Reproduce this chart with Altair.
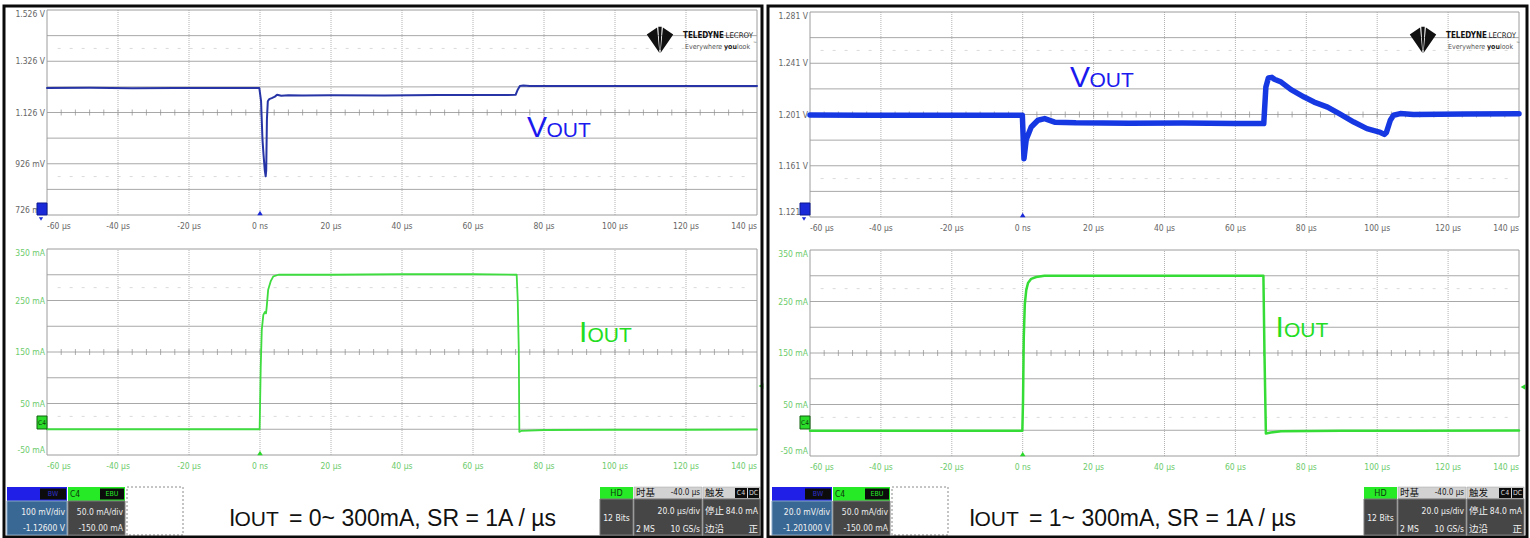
import altair as alt
import pandas as pd

W, H = 1530, 538

NARROW = "Liberation Sans Narrow, Arial Narrow, DejaVu Sans Condensed, Roboto Condensed, Liberation Sans, sans-serif"
SANS = "Liberation Sans, Arial, Helvetica, sans-serif"
CJK = "Noto Sans CJK SC, sans-serif"

# ---- time base: 20 µs/div, trigger at 0 ----
T_DOMAIN = [-60, 140]
T_TICKS = [-60, -40, -20, 0, 20, 40, 60, 80, 100, 120, 140]
T_LABELS = ["-60 µs", "-40 µs", "-20 µs", "0 ns", "20 µs", "40 µs",
            "60 µs", "80 µs", "100 µs", "120 µs", "140 µs"]

# ---- vertical scales ----
VL_DOMAIN = [0.726, 1.526]          # C1, 100 mV/div
VL_TICKS = [0.726, 0.926, 1.126, 1.326, 1.526]
VL_LABELS = ["726 mV", "926 mV", "1.126 V", "1.326 V", "1.526 V"]

VR_DOMAIN = [1.121, 1.281]          # C1, 20 mV/div
VR_TICKS = [1.121, 1.161, 1.201, 1.241, 1.281]
VR_LABELS = ["1.121 V", "1.161 V", "1.201 V", "1.241 V", "1.281 V"]

I_DOMAIN = [-50, 350]               # C4, 50 mA/div
I_TICKS = [-50, 50, 150, 250, 350]
I_LABELS = ["-50 mA", "50 mA", "150 mA", "250 mA", "350 mA"]

TRIG_LEVEL_MA = 84.0

# ---- captured traces ----
# 0 ~ 300 mA step: VOUT (V)
LT_T = [-60, -48, -36, -24, -12, -0.2, 0.3, 0.7, 1.0, 1.35, 1.6, 1.75, 1.95, 2.2, 2.6,
        3.3, 4.2, 4.8, 6, 8, 12, 20, 35, 50, 65, 72.0, 72.6, 73.2, 74.2, 76,
        85, 100, 120, 140]
LT_V = [1.222, 1.223, 1.221, 1.222, 1.222, 1.222, 1.170, 1.020, 0.960, 0.900, 0.877,
        0.900, 1.100, 1.170, 1.178, 1.182, 1.188, 1.195, 1.191, 1.193, 1.192, 1.193,
        1.192, 1.194, 1.194, 1.195, 1.215, 1.229, 1.231, 1.229, 1.229, 1.229, 1.229, 1.229]
# 0 ~ 300 mA step: IOUT (mA)
LB_T = [-60, -30, -0.1, 0.2, 0.5, 0.94, 1.4, 1.7, 1.9, 2.3, 3.0, 3.75, 5.2, 20, 40, 60,
        72.3, 72.6, 72.9, 73.05, 73.7, 80, 100, 120, 140]
LB_I = [0, 0, 0, 120, 193, 222, 228, 225, 238, 271, 287, 297, 300, 300, 301, 301,
        300, 251, 154, -5, -3, -1.5, -1, -1, -0.5]
# 1 ~ 300 mA step: VOUT (V)
RT_T = [-60, -45, -30, -15, -0.1, 0.36, 1.0, 2.4, 4.3, 6.2, 9, 15, 30, 45, 60,
        68.0, 68.6, 69.3, 70.3, 71.0, 72.9, 75.7, 79.4, 82.2, 86, 89.3, 93.4, 97.1,
        100.9, 102.0, 102.6, 103.7, 104.6, 106.5, 110.2, 125, 140]
RT_V = [1.2006, 1.2004, 1.2005, 1.2004, 1.2004, 1.1665, 1.1815, 1.1912, 1.1965, 1.1978,
        1.1950, 1.1945, 1.1942, 1.1944, 1.1940, 1.1939, 1.2225, 1.2295, 1.2300, 1.2285,
        1.2263, 1.2204, 1.2146, 1.2107, 1.2068, 1.2017, 1.1951, 1.1900, 1.1870, 1.1855,
        1.1870, 1.1965, 1.2004, 1.2017, 1.2010, 1.2013, 1.2015]
# 1 ~ 300 mA step: IOUT (mA)
RB_T = [-60, -30, -0.1, 0.1, 0.3, 0.6, 1.0, 1.5, 2.4, 3.8, 6.1, 20, 40, 60,
        67.9, 68.2, 68.6, 70, 72.9, 90, 110, 140]
RB_I = [-1, -1, -1, 60, 180, 245, 272, 286, 294, 297.5, 300, 300, 300, 300,
        300, 150, -6.5, -4.5, -2, -1, -1, -0.5]

# ---- status bar contents ----
CH1_SETTINGS = [["100 mV/div", "-1.12600 V"], ["20.0 mV/div", "-1.201000 V"]]
CH4_SETTINGS = ["50.0 mA/div", "-150.00 mA"]
TIMEBASE = ["-40.0 µs", "20.0 µs/div", "2 MS", "10 GS/s"]
TRIGGER = ["84.0 mA", "正"]
CAPTIONS = ["= 0~ 300mA, SR = 1A / µs", "= 1~ 300mA, SR = 1A / µs"]

ONE = pd.DataFrame({"k": [0]})


def scope_panel(x_px, y_px, y_domain, y_ticks, y_labels, t, y, trace_color,
                trace_width, label_color, marker_color, trig_level=None, trig_x=None):
    xs = alt.Scale(domain=T_DOMAIN, range=list(x_px), nice=False, zero=False)
    ys = alt.Scale(domain=y_domain, range=list(y_px), nice=False, zero=False)
    lo, hi = y_domain
    div = (hi - lo) / 8.0

    def xd(v):
        return alt.X(datum=v, scale=xs, axis=None)

    def yd(v):
        return alt.Y(datum=v, scale=ys, axis=None)

    def xf(f):
        return alt.X(f, scale=xs, axis=None)

    def yf(f):
        return alt.Y(f, scale=ys, axis=None)

    layers = []
    # faint inner graticule rows
    half = pd.DataFrame({"v": [lo + 1.5 * div, hi - 1.5 * div]})
    layers.append(alt.Chart(half).mark_rule(color="#dadada", strokeDash=[3, 9], strokeWidth=1).encode(
        x=xd(T_DOMAIN[0] + 3), x2=alt.X2(datum=T_DOMAIN[1] - 3), y=yf("v:Q")))
    # horizontal divisions
    hgrid = pd.DataFrame({"v": [lo + k * div for k in range(1, 8)]})
    layers.append(alt.Chart(hgrid).mark_rule(color="#a8a8a8", strokeWidth=1).encode(
        x=xd(T_DOMAIN[0]), x2=alt.X2(datum=T_DOMAIN[1]), y=yf("v:Q")))
    # vertical divisions (dotted)
    vgrid = pd.DataFrame({"t": T_TICKS[1:-1]})
    layers.append(alt.Chart(vgrid).mark_rule(color="#b2b2b2", strokeDash=[1, 1], strokeWidth=1).encode(
        x=xf("t:Q"), y=yd(lo), y2=alt.Y2(datum=hi)))
    # minor ticks on the centre line
    minor = pd.DataFrame({"t": [T_DOMAIN[0] + 4 * k for k in range(1, 50)]})
    layers.append(alt.Chart(minor).mark_tick(orient="vertical", size=6, thickness=1, color="#8c8c8c").encode(
        x=xf("t:Q"), y=yd(lo + 4 * div)))
    # plot border
    layers.append(alt.Chart(ONE).mark_rect(fillOpacity=0, stroke="#9c9c9c", strokeWidth=1).encode(
        x=xd(T_DOMAIN[0]), x2=alt.X2(datum=T_DOMAIN[1]), y=yd(lo), y2=alt.Y2(datum=hi)))

    # time labels under the grid (outer ones kept flush with the plot edges)
    tl = pd.DataFrame({"t": T_TICKS, "label": T_LABELS})
    for sub, align in ((tl.iloc[:1], "left"), (tl.iloc[1:-1], "center"), (tl.iloc[-1:], "right")):
        layers.append(alt.Chart(sub).mark_text(align=align, baseline="middle", font=NARROW,
                                               fontSize=8.5, color=label_color).encode(
            x=xf("t:Q"), y=alt.value(y_px[0] + 10.5), text="label:N"))
    # vertical labels left of the grid
    vlab = pd.DataFrame({"v": y_ticks, "label": y_labels})
    for sub, base in ((vlab.iloc[:1], "bottom"), (vlab.iloc[1:-1], "middle"), (vlab.iloc[-1:], "top")):
        layers.append(alt.Chart(sub).mark_text(align="right", baseline=base, font=NARROW,
                                               fontSize=8.5, color=label_color).encode(
            x=alt.value(x_px[0] - 2), y=yf("v:Q"), text="label:N"))

    # the trace
    tr = pd.DataFrame({"t": t, "y": y})
    layers.append(alt.Chart(tr).mark_line(color=trace_color, strokeWidth=trace_width,
                                          strokeJoin="round", strokeCap="round").encode(
        x=xf("t:Q"), y=yf("y:Q")))
    # trigger position marker
    layers.append(alt.Chart(ONE).mark_point(shape="triangle-up", filled=True, size=30,
                                            color=marker_color, opacity=1).encode(
        x=xd(0), y=alt.value(y_px[0] - 2)))
    # trigger level marker
    if trig_level is not None:
        layers.append(alt.Chart(ONE).mark_point(shape="triangle-left", filled=True, size=30,
                                                color=marker_color, opacity=1).encode(
            x=alt.value(trig_x), y=yd(trig_level)))
    return alt.layer(*layers)


def boxes(rows):
    df = pd.DataFrame(rows, columns=["x", "x2", "y", "y2", "fill", "stroke", "sw"])
    return alt.Chart(df).mark_rect().encode(
        x=alt.X("x:Q", scale=None, axis=None), x2="x2:Q",
        y=alt.Y("y:Q", scale=None, axis=None), y2="y2:Q",
        fill=alt.Fill("fill:N", scale=None),
        stroke=alt.Stroke("stroke:N", scale=None),
        strokeWidth=alt.StrokeWidth("sw:Q", scale=None))


def texts(rows, align="left", baseline="alphabetic", font=SANS, weight="normal"):
    df = pd.DataFrame(rows, columns=["x", "y", "text", "color", "size"])
    return alt.Chart(df).mark_text(align=align, baseline=baseline, font=font, fontWeight=weight).encode(
        x=alt.X("x:Q", scale=None, axis=None), y=alt.Y("y:Q", scale=None, axis=None),
        text="text:N", color=alt.Color("color:N", scale=None),
        size=alt.Size("size:Q", scale=None))


def status_bar(dxl, dxr, ch1):
    L = [(7, 67, 487, 501, "#1f1fe8", "#1f1fe8", 0),
         (40, 66, 488.5, 499.5, "#0c0c0c", "#0c0c0c", 0),
         (7, 67, 501, 535, "#3a6894", "#86a6c6", 1),
         (68, 125, 487, 501, "#27ea27", "#27ea27", 0),
         (100, 124, 488.5, 499.5, "#0c0c0c", "#0c0c0c", 0),
         (68, 125, 501, 535, "#464646", "#7a7a7a", 1)]
    R = [(600, 633, 487, 499, "#27ea27", "#27ea27", 0),
         (600, 633, 499, 535, "#464646", "#7a7a7a", 1),
         (634, 702, 487, 499, "#d2d2d2", "#a0a0a0", 0.5),
         (634, 702, 499, 535, "#464646", "#7a7a7a", 1),
         (703, 760, 487, 499, "#d2d2d2", "#a0a0a0", 0.5),
         (703, 760, 499, 535, "#464646", "#7a7a7a", 1),
         (735, 747, 488, 498, "#0c0c0c", "#0c0c0c", 0),
         (748, 759, 488, 498, "#0c0c0c", "#0c0c0c", 0)]
    rows = [(a + dxl, b + dxl, c, d, e, f, g) for a, b, c, d, e, f, g in L]
    rows += [(a + dxr, b + dxr, c, d, e, f, g) for a, b, c, d, e, f, g in R]
    out = [boxes(rows)]
    out.append(alt.Chart(ONE).mark_rect(fill="white", stroke="#8a8a8a", strokeDash=[2, 2], strokeWidth=1).encode(
        x=alt.value(127 + dxl), x2=alt.value(183 + dxl), y=alt.value(487), y2=alt.value(535)))
    out.append(texts([(65 + dxl, 512, ch1[0], "#f2f2f2", 8.5), (65 + dxl, 528, ch1[1], "#f2f2f2", 8.5),
                      (123 + dxl, 512, CH4_SETTINGS[0], "#ececec", 8.5),
                      (123 + dxl, 528, CH4_SETTINGS[1], "#ececec", 8.5),
                      (700 + dxr, 493, TIMEBASE[0], "#1a1a1a", 8),
                      (700 + dxr, 511, TIMEBASE[1], "#f2f2f2", 8.5),
                      (700 + dxr, 529, TIMEBASE[3], "#f2f2f2", 8.5),
                      (758 + dxr, 511, TRIGGER[0], "#f2f2f2", 8.5)],
                     align="right", baseline="middle", font=NARROW))
    out.append(texts([(70 + dxl, 494, "C4", "#0b3a0b", 8.5), (636 + dxr, 529, TIMEBASE[2], "#f2f2f2", 8.5)],
                     align="left", baseline="middle", font=NARROW))
    out.append(texts([(53 + dxl, 494, "BW", "#3030c8", 7), (112 + dxl, 494, "EBU", "#27ea27", 7),
                      (616.5 + dxr, 493, "HD", "#0b3a0b", 9), (616.5 + dxr, 518, "12 Bits", "#f2f2f2", 8.5),
                      (741 + dxr, 493, "C4", "#d8d8d8", 7), (753.5 + dxr, 493, "DC", "#d8d8d8", 7)],
                     align="center", baseline="middle", font=NARROW))
    out.append(texts([(636 + dxr, 493, "时基", "#111111", 9.5), (705 + dxr, 493, "触发", "#111111", 9.5),
                      (705 + dxr, 511, "停止", "#f2f2f2", 9.5), (705 + dxr, 529, "边沿", "#f2f2f2", 9.5)],
                     align="left", baseline="middle", font=CJK))
    out.append(texts([(758 + dxr, 529, TRIGGER[1], "#f2f2f2", 9.5)],
                     align="right", baseline="middle", font=CJK))
    return out


LOGO_PATH = ("M -1 -0.42 L -0.22 -0.95 L -0.04 0.98 Z "
             "M 1 -0.42 L 0.22 -0.95 L 0.04 0.98 Z "
             "M -0.13 -1 L 0.13 -1 L 0.03 0.75 L -0.03 0.75 Z")


def logo(dx):
    parts = [alt.Chart(ONE).mark_point(shape=LOGO_PATH, filled=True, size=700, color="#111111", opacity=1).encode(
        x=alt.value(660 + dx), y=alt.value(40))]
    parts.append(texts([(683 + dx, 37.5, "TELEDYNE", "#111111", 8)], font=NARROW, weight="bold"))
    parts.append(texts([(725.5 + dx, 37.5, "LECROY", "#222222", 7.8)], font=NARROW))
    parts.append(texts([(685 + dx, 49, "Everywhere", "#555555", 7), (737 + dx, 49, "look", "#555555", 7),
                        (753 + dx, 45, "™", "#555555", 4.5)], font=NARROW))
    parts.append(texts([(724 + dx, 49, "you", "#222222", 7)], font=NARROW, weight="bold"))
    return parts


def channel_markers(dx):
    return [
        boxes([(37 + dx, 47 + dx, 203, 215, "#1a2ad8", "#0c1890", 1),
               (37 + dx, 47 + dx, 416, 429, "#2bdc2b", "#0f600f", 1)]),
        alt.Chart(ONE).mark_point(shape="triangle-down", filled=True, size=18, color="#1a2ad8", opacity=1).encode(
            x=alt.value(41 + dx), y=alt.value(219)),
        texts([(42 + dx, 423, "C4", "#0b3a0b", 6.5)], align="center", baseline="middle", font=NARROW),
    ]


LX, RX = (47, 757), (810, 1519)

panels = [
    scope_panel(LX, (215, 10), VL_DOMAIN, VL_TICKS, VL_LABELS, LT_T, LT_V,
                "#2634a6", 2, "#666666", "#1a2ad8"),
    scope_panel(LX, (455, 249), I_DOMAIN, I_TICKS, I_LABELS, LB_T, LB_I,
                "#3edc3e", 1.8, "#6ccb6c", "#2bd62b", TRIG_LEVEL_MA, 761),
    scope_panel(RX, (217, 12), VR_DOMAIN, VR_TICKS, VR_LABELS, RT_T, RT_V,
                "#1638e2", 5.5, "#666666", "#1a2ad8"),
    scope_panel(RX, (456, 250), I_DOMAIN, I_TICKS, I_LABELS, RB_T, RB_I,
                "#35dc35", 2.5, "#6ccb6c", "#2bd62b", TRIG_LEVEL_MA, 1523),
]

# trace names: large first letter followed by small capitals
names = [
    texts([(527, 137, "V", "#1a1aee", 30), (1070, 87, "V", "#1a1aee", 30),
           (579, 342, "I", "#22dd22", 30), (1275.5, 337, "I", "#22dd22", 30)]),
    texts([(546.5, 137, "OUT", "#1a1aee", 21), (1089.5, 87, "OUT", "#1a1aee", 21),
           (587.5, 342, "OUT", "#22dd22", 21), (1284, 337, "OUT", "#22dd22", 21)]),
]

captions = [
    texts([(229, 526, "I", "#111111", 23), (969, 526, "I", "#111111", 23)]),
    texts([(234.5, 526, "OUT", "#111111", 21), (974.5, 526, "OUT", "#111111", 21)]),
    texts([(289, 526, CAPTIONS[0], "#111111", 23), (1029, 526, CAPTIONS[1], "#111111", 23)]),
]

frames = alt.Chart(pd.DataFrame({"x": [4, 768], "x2": [762, 1527]})).mark_rect(
    fillOpacity=0, stroke="#0a0a0a", strokeWidth=3).encode(
    x=alt.X("x:Q", scale=None, axis=None), x2="x2:Q", y=alt.value(6), y2=alt.value(537))

layers = panels + names + captions
layers += status_bar(0, 0, CH1_SETTINGS[0]) + status_bar(765, 764, CH1_SETTINGS[1])
layers += logo(0) + logo(763)
layers += channel_markers(0) + channel_markers(763)
layers.append(frames)

chart = alt.layer(*layers).resolve_scale(
    x="independent", y="independent"
).properties(
    width=W, height=H, autosize=alt.AutoSizeParams(type="none"), padding=0, background="white"
).configure_view(strokeWidth=0)

chart.save("out.html", embed_options={"renderer": "svg", "actions": False})
